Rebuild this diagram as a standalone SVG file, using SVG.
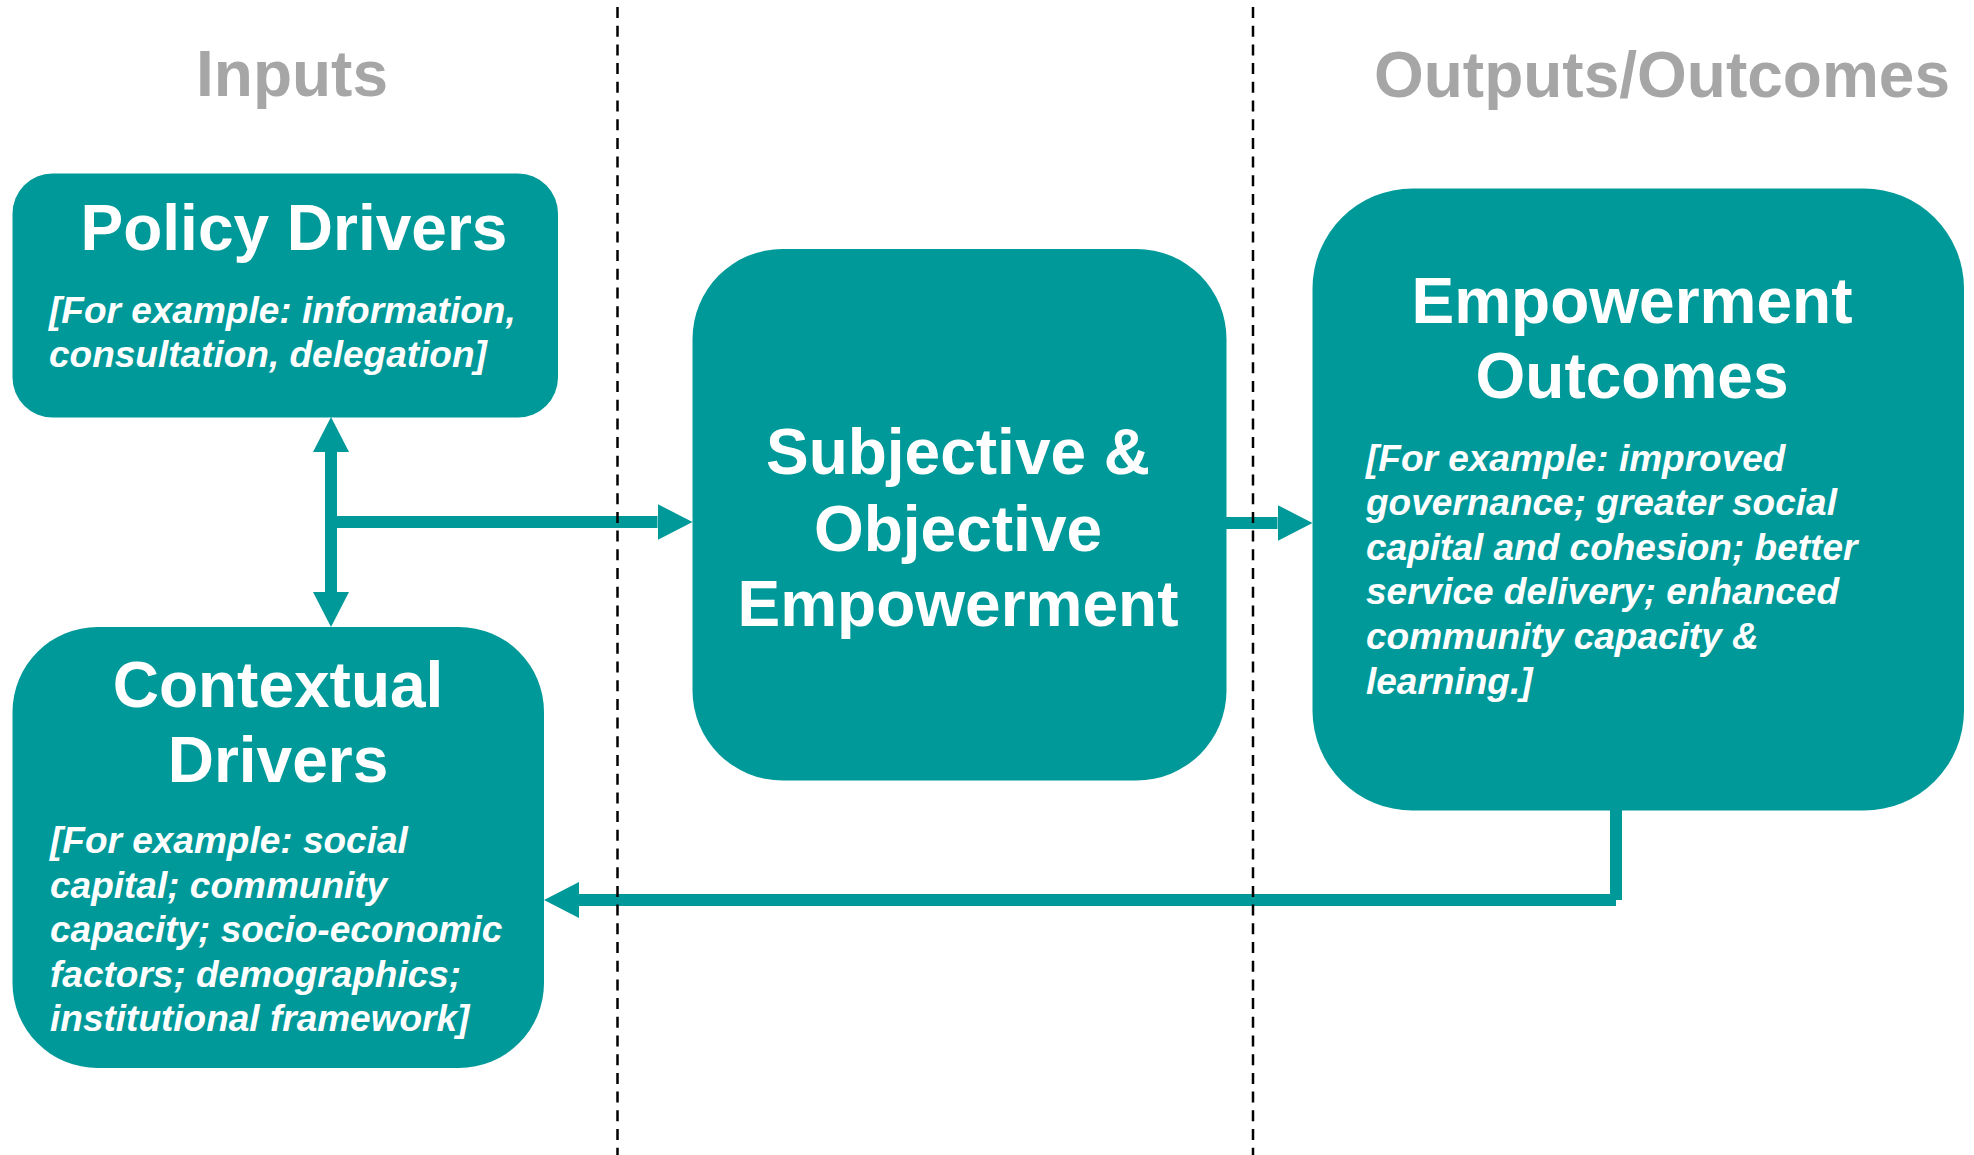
<svg xmlns="http://www.w3.org/2000/svg" width="1974" height="1155" viewBox="0 0 1974 1155">
  <style>
    .box { fill: #009999; }
    .title { font-family: "Liberation Sans", Arial, sans-serif; font-weight: bold; font-size: 64px; fill: #ffffff; text-anchor: middle; }
    .note { font-family: "Liberation Sans", Arial, sans-serif; font-weight: bold; font-style: italic; font-size: 37px; fill: #ffffff; }
    .header { font-family: "Liberation Sans", Arial, sans-serif; font-weight: bold; font-size: 64px; fill: #a6a6a6; text-anchor: middle; }
    .link { fill: none; stroke: #009999; stroke-width: 12; stroke-linecap: butt; }
    .divider { stroke: #000000; stroke-width: 2.5; stroke-dasharray: 11 7.7; }
  </style>
  <defs>
    <marker id="head" markerUnits="userSpaceOnUse" markerWidth="35" markerHeight="36" viewBox="0 0 35 36" refX="0" refY="18" orient="auto-start-reverse">
      <path d="M0,0 L35,18 L0,36 Z" fill="#009999"/>
    </marker>
  </defs>

  <rect width="1974" height="1155" fill="#ffffff"/>

  <!-- column headers -->
  <g id="headers">
    <text class="header" x="292" y="96">Inputs</text>
    <text class="header" x="1662" y="97">Outputs/Outcomes</text>
  </g>

  <!-- connectors -->
  <g id="connectors">
    <path class="link" d="M331,452 L331,592" marker-start="url(#head)" marker-end="url(#head)"/>
    <path class="link" d="M325,522 L657.5,522" marker-end="url(#head)"/>
    <path class="link" d="M1226,523 L1277.5,523" marker-end="url(#head)"/>
    <path class="link" d="M1616,810 L1616,900 M1616,900 L579,900" marker-end="url(#head)"/>
  </g>

  <g id="policy-drivers">
    <rect class="box" x="12.5" y="173.5" width="545.5" height="244" rx="40" ry="40"/>
    <text class="title" x="294" y="250">Policy Drivers</text>
    <text class="note" x="49" y="322.5">[For example: information,</text>
    <text class="note" x="49" y="366.5">consultation, delegation]</text>
  </g>

  <g id="contextual-drivers">
    <rect class="box" x="12.5" y="627" width="531.5" height="441" rx="85" ry="85"/>
    <text class="title" x="278" y="707">Contextual</text>
    <text class="title" x="278" y="782">Drivers</text>
    <text class="note" x="50" y="853">[For example: social</text>
    <text class="note" x="50" y="898">capital; community</text>
    <text class="note" x="50" y="942">capacity; socio-economic</text>
    <text class="note" x="50" y="987">factors; demographics;</text>
    <text class="note" x="50" y="1031">institutional framework]</text>
  </g>

  <g id="empowerment">
    <rect class="box" x="692.5" y="249" width="534" height="531.5" rx="90" ry="90"/>
    <text class="title" x="958" y="474">Subjective &amp;</text>
    <text class="title" x="958" y="551">Objective</text>
    <text class="title" x="958" y="626">Empowerment</text>
  </g>

  <g id="empowerment-outcomes">
    <rect class="box" x="1312.5" y="188.5" width="651.5" height="622" rx="100" ry="100"/>
    <text class="title" x="1632" y="323">Empowerment</text>
    <text class="title" x="1632" y="398">Outcomes</text>
    <text class="note" x="1366" y="471">[For example: improved</text>
    <text class="note" x="1366" y="515">governance; greater social</text>
    <text class="note" x="1366" y="560">capital and cohesion; better</text>
    <text class="note" x="1366" y="604">service delivery; enhanced</text>
    <text class="note" x="1366" y="649">community capacity &amp;</text>
    <text class="note" x="1366" y="694">learning.]</text>
  </g>

  <!-- column dividers, drawn over the connectors -->
  <g id="dividers">
    <line class="divider" x1="617.5" y1="7" x2="617.5" y2="1155"/>
    <line class="divider" x1="1253" y1="7" x2="1253" y2="1155"/>
  </g>
</svg>
